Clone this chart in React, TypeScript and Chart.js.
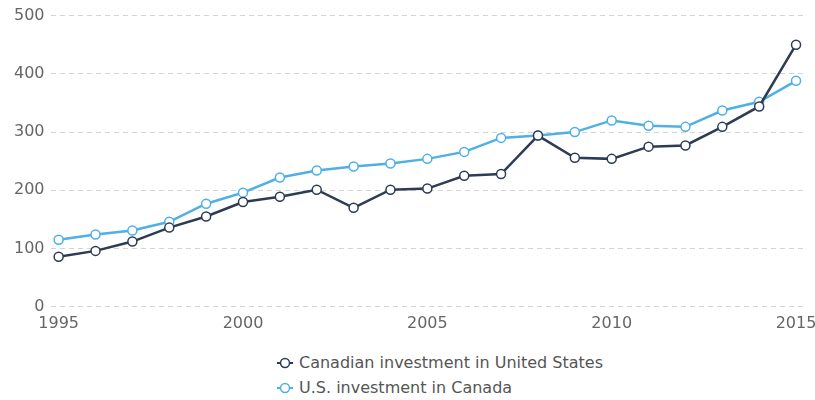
import React, { useEffect, useRef } from "react";
import { Chart, registerables } from "chart.js";

Chart.register(...registerables);

const years = [1995, 1996, 1997, 1998, 1999, 2000, 2001, 2002, 2003, 2004, 2005, 2006, 2007, 2008, 2009, 2010, 2011, 2012, 2013, 2014, 2015];
const canadianInUS = [86, 96, 112, 136, 155, 180, 189, 201, 170, 201, 203, 225, 228, 294, 256, 254, 275, 277, 309, 344, 450];
const usInCanada = [115, 124, 131, 146, 177, 196, 222, 234, 241, 246, 254, 266, 290, 294, 300, 320, 311, 309, 337, 352, 388];
const xTicks = [1995, 2000, 2005, 2010, 2015];
const yTicks = [0, 100, 200, 300, 400, 500];

const seriesNames = ["Canadian investment in United States", "U.S. investment in Canada"];
const seriesColors = ["#2d3c55", "#4fb0e6"];

const FONT = "'DejaVu Sans', sans-serif";

export default function App() {
  const ref = useRef<HTMLCanvasElement | null>(null);
  useEffect(() => {
    const ctx = ref.current!;
    const mk = (vals: number[]) => vals.map((v, i) => ({ x: years[i], y: v }));
    const ds = (i: number, vals: number[]) => ({
      label: seriesNames[i],
      data: mk(vals),
      borderColor: seriesColors[i],
      backgroundColor: "#ffffff",
      pointBackgroundColor: "#ffffff",
      pointBorderColor: seriesColors[i],
      borderWidth: 2.5,
      pointRadius: 4.5,
      pointBorderWidth: 1.5,
      tension: 0,
    });
    const chart = new Chart(ctx, {
      type: "line",
      data: { datasets: [ds(0, canadianInUS), ds(1, usInCanada)] },
      options: {
        animation: false,
        responsive: false,
        layout: { padding: { top: 6, right: 9, left: 8, bottom: 5 } },
        plugins: { legend: { display: false }, tooltip: { enabled: false } },
        scales: {
          x: {
            type: "linear",
            min: 1994.78,
            max: 2015.27,
            afterBuildTicks: (axis: any) => {
              axis.ticks = xTicks.map((v) => ({ value: v }));
            },
            afterFit: (axis: any) => {
              axis.paddingRight = 0;
              axis.paddingLeft = 0;
            },
            grid: { display: false, drawTicks: false },
            border: { display: false },
            ticks: {
              color: "#666",
              font: { family: FONT, size: 16 },
              padding: 7,
              maxRotation: 0,
              autoSkip: false,
              callback: (v: any) => String(v),
            },
          },
          y: {
            min: 0,
            max: 500,
            afterBuildTicks: (axis: any) => {
              axis.ticks = yTicks.map((v) => ({ value: v }));
            },
            grid: { color: "#d4d4d4", drawTicks: false, lineWidth: 1 },
            border: { display: false, dash: [5, 4] },
            ticks: {
              color: "#666",
              font: { family: FONT, size: 16 },
              padding: 6,
            },
          },
        },
      },
    } as any);
    return () => chart.destroy();
  }, []);

  const legendItem = (i: number) => (
    <div key={i} style={{ display: "flex", alignItems: "center", height: 25 }}>
      <svg width="18" height="14" style={{ marginRight: 5 }}>
        <line x1="1" y1="7" x2="17" y2="7" stroke={seriesColors[i]} strokeWidth="2" />
        <circle cx="9" cy="7" r="4.5" fill="#fff" stroke={seriesColors[i]} strokeWidth="1.5" />
      </svg>
      <span>{seriesNames[i]}</span>
    </div>
  );

  return (
    <div style={{ position: "fixed", left: 0, top: 0, width: 815, height: 400, background: "#fff" }}>
      <canvas ref={ref} width={815} height={345} style={{ display: "block" }} />
      <div
        style={{
          position: "absolute",
          left: 276,
          top: 350,
          fontFamily: FONT,
          fontSize: 16,
          color: "#555",
        }}
      >
        {legendItem(0)}
        {legendItem(1)}
      </div>
    </div>
  );
}
